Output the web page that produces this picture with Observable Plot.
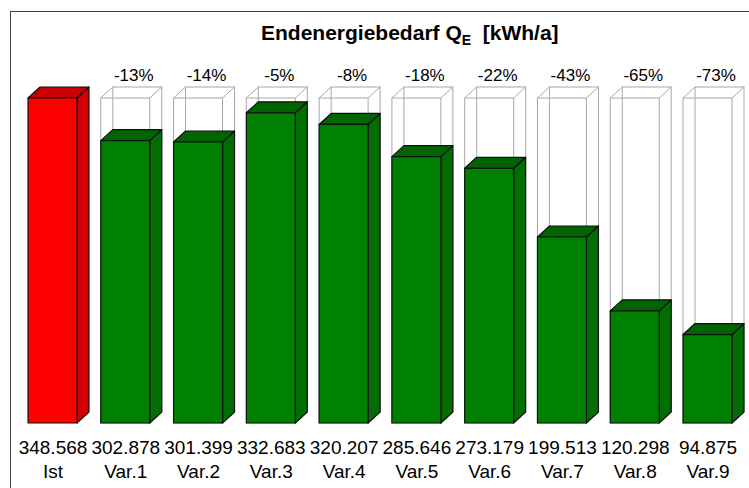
<!DOCTYPE html>
<html>
<head>
<meta charset="utf-8">
<script src="https://cdn.jsdelivr.net/npm/d3@7"></script>
<script src="https://cdn.jsdelivr.net/npm/@observablehq/plot@0.6"></script>
<style>
  html, body { margin: 0; padding: 0; background: #fff; overflow: hidden; }
  body { width: 749px; height: 488px; position: relative; font-family: "Liberation Sans", Arial, sans-serif; }
  #frame { position: absolute; left: 10px; top: 11px; width: 760px; height: 500px;
           border-top: 1px solid #404040; border-left: 1px solid #404040; }
  #title { height: 50px; position: relative; }
  #title span.t { position: absolute; left: 250px; top: 9px; font-weight: bold; font-size: 21px; white-space: pre; color: #000; }
  #title sub { font-size: 14px; vertical-align: -5px; line-height: 0; }
</style>
</head>
<body>
<div id="frame">
  <div id="title"><span class="t">Endenergiebedarf Q<sub>E</sub>  [kWh/a]</span></div>
  <div id="chart"></div>
</div>
<script>
const cats = ["Ist", "Var.1", "Var.2", "Var.3", "Var.4", "Var.5", "Var.6", "Var.7", "Var.8", "Var.9"];
const values = [348.568, 302.878, 301.399, 332.683, 320.207, 285.646, 273.179, 199.513, 120.298, 94.875];
const valueLabels = ["348.568", "302.878", "301.399", "332.683", "320.207", "285.646", "273.179", "199.513", "120.298", "94.875"];
const pctLabels = ["", "-13%", "-14%", "-5%", "-8%", "-18%", "-22%", "-43%", "-65%", "-73%"];

const ref = values[0];
const data = cats.map((c, i) => ({cat: c, value: values[i], vlabel: valueLabels[i], pct: pctLabels[i], isRef: i === 0}));
const variants = data.filter(d => !d.isRef);

const DX = 12, DY = 11;

function bandwidthOf(scales) {
  const sx = scales.x;
  if (typeof sx.bandwidth === "function") return sx.bandwidth();
  if (typeof sx.bandwidth === "number") return sx.bandwidth;
  return scales.scales.x.bandwidth;
}

function wireRender(arr) {
  return (index, scales) => {
    const g = d3.create("svg:g").attr("fill", "none").attr("stroke", "#a8a8a8").attr("stroke-width", 1);
    const bw = bandwidthOf(scales);
    for (const i of index) {
      const d = arr[i];
      const x0 = scales.x(d.cat), x1 = x0 + bw;
      const yb = scales.y(0), yt = scales.y(ref);
      g.append("rect").attr("x", x0).attr("y", yt).attr("width", bw).attr("height", yb - yt);
      g.append("rect").attr("x", x0 + DX).attr("y", yt - DY).attr("width", bw).attr("height", yb - yt);
      [[x0, yt], [x1, yt], [x1, yb], [x0, yb]].forEach(([px, py]) =>
        g.append("line").attr("x1", px).attr("y1", py).attr("x2", px + DX).attr("y2", py - DY));
    }
    return g.node();
  };
}

function barRender(arr) {
  return (index, scales) => {
    const g = d3.create("svg:g").attr("stroke", "#111").attr("stroke-width", 1.2).attr("stroke-linejoin", "round");
    const bw = bandwidthOf(scales);
    for (const i of index) {
      const d = arr[i];
      const x0 = scales.x(d.cat), x1 = x0 + bw;
      const yb = scales.y(0), yt = scales.y(d.value);
      const front = d.isRef ? "#ff0000" : "#008000";
      const top = d.isRef ? "#cc0000" : "#006400";
      const side = d.isRef ? "#d00000" : "#006e00";
      g.append("polygon").attr("fill", side)
        .attr("points", [[x1, yb], [x1, yt], [x1 + DX, yt - DY], [x1 + DX, yb - DY]].map(p => p.join(",")).join(" "));
      g.append("polygon").attr("fill", top)
        .attr("points", [[x0, yt], [x1, yt], [x1 + DX, yt - DY], [x0 + DX, yt - DY]].map(p => p.join(",")).join(" "));
      g.append("rect").attr("fill", front).attr("x", x0).attr("y", yt).attr("width", bw).attr("height", yb - yt);
    }
    return g.node();
  };
}

const plot = Plot.plot({
  width: 738,
  height: 426,
  marginTop: 36,
  marginBottom: 65,
  marginLeft: 0,
  marginRight: 0,
  style: {fontFamily: "'Liberation Sans', Arial, sans-serif", background: "transparent", overflow: "visible", color: "#000"},
  x: {domain: cats, range: [17, 721], paddingInner: 0.327, paddingOuter: 0, align: 0, round: false, axis: null},
  y: {domain: [0, ref], range: [361, 36], axis: null},
  marks: [
    Plot.barY(variants, {x: "cat", y: () => ref, render: wireRender(variants)}),
    Plot.barY(data, {x: "cat", y: "value", render: barRender(data)}),
    Plot.text(variants, {x: "cat", y: () => ref, text: "pct", dy: -18, dx: 8, lineAnchor: "bottom", fontSize: 17, fill: "#000"}),
    Plot.text(data, {x: "cat", y: () => 0, text: "vlabel", dy: 30, lineAnchor: "bottom", fontSize: 19, fill: "#000"}),
    Plot.text(data, {x: "cat", y: () => 0, text: "cat", dy: 54, lineAnchor: "bottom", fontSize: 19, fill: "#000"})
  ]
});
document.getElementById("chart").appendChild(plot);
</script>
</body>
</html>
